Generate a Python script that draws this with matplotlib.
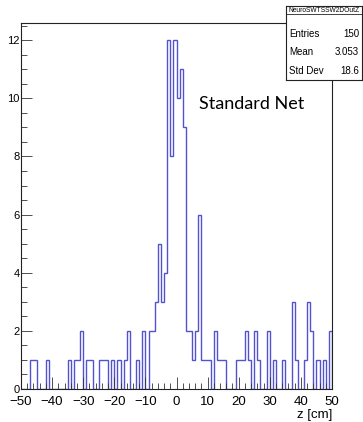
import matplotlib
matplotlib.use("Agg")
import matplotlib.pyplot as plt
import numpy as np

# ── Data: counts per 1 cm bin from -50 to 50 ────────────────────────────────
bin_lo, bin_hi = -50, 50
counts = [
    0, 0, 0, 1, 1, 0, 0, 0, 1, 0,      # -50 .. -41
    0, 0, 0, 0, 0, 1, 0, 1, 1, 2,      # -40 .. -31
    0, 1, 1, 0, 0, 1, 1, 1, 0, 1,      # -30 .. -21
    0, 1, 0, 1, 2, 0, 0, 1, 0, 2,      # -20 .. -11
    0, 2, 2, 3, 5, 3, 4, 12, 8, 12,    # -10 .. -1
    10, 11, 9, 2, 2, 1, 2, 6, 1, 1,    #   0 .. 9
    1, 0, 2, 1, 1, 1, 0, 0, 0, 1,      #  10 .. 19
    1, 1, 2, 1, 0, 2, 1, 0, 0, 2,      #  20 .. 29
    0, 1, 0, 0, 1, 0, 0, 3, 1, 0,      #  30 .. 39
    0, 1, 3, 2, 0, 1, 0, 1, 0, 2,      #  40 .. 49
]
hist_name = "NeuroSWTSSW2DOutZ"
stat_labels = ["Entries", "Mean", "Std Dev"]
stat_values = ["150", "3.053", "18.6"]
x_ticks = [-50, -40, -30, -20, -10, 0, 10, 20, 30, 40, 50]
y_ticks = [0, 2, 4, 6, 8, 10, 12]

edges = np.arange(bin_lo, bin_hi + 1, 1)

plt.rcParams['font.family'] = ['Liberation Sans', 'DejaVu Sans']

W, H = 363, 422
fig = plt.figure(figsize=(W / 100, H / 100), dpi=100)
ax = fig.add_axes([21 / W, 1 - 389 / H, (332 - 21) / W, (389 - 22.7) / H])

ax.stairs(counts, edges, baseline=0, color='#5252d0', linewidth=1.0)

ax.set_xlim(bin_lo, bin_hi)
ax.set_ylim(0, 12.6)

ax.set_xticks(x_ticks)
ax.set_xticks(np.arange(bin_lo, bin_hi + 1, 2), minor=True)
ax.set_yticks(y_ticks)
ax.set_yticks(np.arange(0, 12.6, 0.5), minor=True)

ax.tick_params(axis='both', which='both', direction='in', color='#333333',
               width=0.6)
ax.tick_params(axis='x', which='major', length=9, labelsize=9.5, pad=5)
ax.tick_params(axis='x', which='minor', length=4.5)
ax.tick_params(axis='y', which='major', length=8, labelsize=8, pad=1)
ax.tick_params(axis='y', which='minor', length=4)

for sp in ax.spines.values():
    sp.set_linewidth(0.8)
    sp.set_color('#222222')

ax.set_xlabel('z [cm]', fontsize=9.5, loc='right', labelpad=1)

fig.text(199 / W, 1 - 104 / H, 'Standard Net', family='Lato', fontsize=13,
         ha='left', va='center')

# ── Stats box ───────────────────────────────────────────────────────────────
sb = fig.add_axes([285.7 / W, 1 - 80 / H, (362 - 285.7) / W, (80 - 6) / H])
sb.set_xticks([])
sb.set_yticks([])
sb.set_xlim(0, 1)
sb.set_ylim(0, 1)
sb.set_facecolor('white')
for sp in sb.spines.values():
    sp.set_linewidth(0.8)
    sp.set_color('#222222')
sb.axhline(1 - 8.5 / 74, color='#222222', linewidth=0.6)
sb.text(0.5, 1 - 4.5 / 74, hist_name, fontsize=4.8, ha='center', va='center')
row_y = [34, 52.3, 70.7]
for lab, val, yy in zip(stat_labels, stat_values, row_y):
    fy = 1 - (yy - 6) / 74
    sb.text(0.04, fy, lab, fontsize=7, ha='left', va='center')
    sb.text(0.96, fy, val, fontsize=7, ha='right', va='center')

fig.savefig('out.png', dpi=100)
